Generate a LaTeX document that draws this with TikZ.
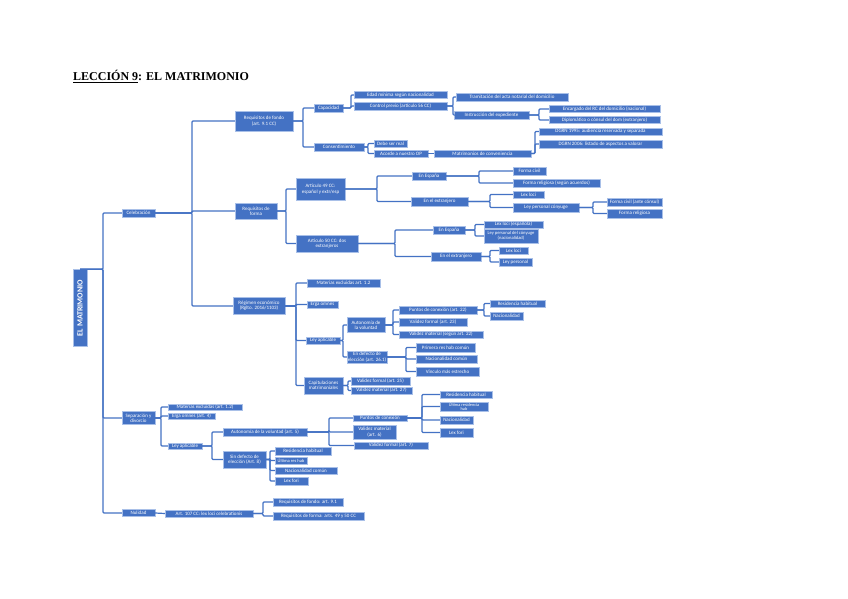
\documentclass[tikz,border=0pt]{standalone}
\usepackage{fontspec}
\setmainfont{Carlito}
\newfontfamily\titlefont{Liberation Serif}
\definecolor{boxblue}{HTML}{4472C4}
\definecolor{boxedge}{HTML}{A9C0E8}
\tikzset{
  box/.style={fill=boxblue, draw=boxedge, line width=0.4pt, text=white, inner sep=0pt, align=center,
    font=\fontsize{5}{5.4}\selectfont},
  conn/.style={draw=boxblue, line width=1.2pt, rounded corners=1pt},
}
\newcommand{\bx}[6]{\node[box, minimum width=#4, minimum height=#5] (#1) at (#2,#3) {#6};}
\newcommand{\brk}[3]{\coordinate (#1-b) at (#2,0);
  \foreach \kid in {#3}{\draw[conn] (#1.east) -- (#1.east -| #1-b) |- (\kid.west);}}
\begin{document}
\begin{tikzpicture}[x=1pt,y=-1pt]
\fill[white] (0,0) rectangle (848,599);
\useasboundingbox (0,0) rectangle (848,599);

\node[anchor=base west, inner sep=0pt, font=\titlefont\bfseries\fontsize{12}{14}\selectfont] (title) at (73,81) {\underline{LECCIÓN 9}: EL MATRIMONIO};

% root
\node[box, rotate=90, minimum width=77, minimum height=14, font=\bfseries\fontsize{8}{9}\selectfont] (root) at (80,308) {EL MATRIMONIO};

\bx{cel}{138.5}{213}{33}{8}{Celebración}
\bx{sep}{138.5}{418}{33}{13}{Separación y\\divorcio}
\bx{nul}{138.5}{513}{33}{7}{Nulidad}

\bx{rfondo}{264}{121}{58}{20}{Requisitos de fondo\\(art. 9.1 CC)}
\bx{rforma}{256}{211}{42}{16}{Requisitos de\\forma}
\bx{reg}{259}{306}{52}{17}{Régimen económico\\(Rglto. 2016/1103)}

\bx{cap}{328.5}{108}{29}{8}{Capacidad}
\bx{cons}{339}{147}{50}{8}{Consentimiento}
\bx{edad}{400.5}{95}{93}{7}{Edad mínima según nacionalidad}
\bx{ctrl}{400.5}{106}{93}{8}{Control previo (artículo 56 CC)}
\bx{tram}{512}{97}{112}{8}{Tramitación del acta notarial del domicilio}
\bx{instr}{491.5}{115}{75}{8}{Instrucción del expediente}
\bx{enc}{604.5}{109}{111}{7}{Encargado del RC del domicilio (nacional)}
\bx{dipl}{604.5}{120}{111}{7}{Diplomático o cónsul del dom (extranjero)}
\bx{debe}{390.5}{143.5}{33}{7}{Debe ser real}
\bx{acor}{401}{153.5}{54}{7}{Acorde a nuestro OP}
\bx{matr}{482.5}{153.5}{97}{7}{Matrimonios de conveniencia}
\bx{d95}{600.5}{131.5}{123}{7}{DGRN 1995: audiencia reservada y separada}
\bx{d06}{600.5}{144}{123}{8}{DGRN 2006: listado de aspectos a valorar}

\bx{a49}{320.5}{189}{49}{22}{Artículo 49 CC:\\español y extr/esp}
\bx{a50}{327}{243.5}{62}{17}{Artículo 50 CC: dos\\extranjeros}
\bx{esp49}{429}{176}{34}{8}{En España}
\bx{ext49}{439.5}{201.5}{57}{9}{En el extranjero}
\bx{fcivil}{529.5}{171}{33}{8}{Forma civil}
\bx{frel}{556.5}{183}{87}{8}{Forma religiosa (según acuerdos)}
\bx{llc49}{528.5}{194.5}{31}{7}{Lex loci}
\bx{lpc}{546}{207.5}{66}{9}{Ley personal cónyuge}
\bx{fcc}{634.5}{202}{55}{8}{Forma civil (ante cónsul)}
\bx{frr}{634.5}{213.5}{55}{9}{Forma religiosa}
\bx{esp50}{449}{230}{32}{8}{En España}
\bx{ext50}{456}{256.5}{50}{9}{En el extranjero}
\bx{llesp}{513.5}{224.5}{59}{7}{Lex loci (española)}
\node[box, minimum width=54, minimum height=14, font=\fontsize{4.6}{5.2}\selectfont] (lpcn) at (511,236) {Ley personal del cónyuge\\(nacionalidad)};
\bx{llc50}{513.5}{250.5}{29}{7}{Lex loci}
\bx{lp50}{515.5}{262}{33}{8}{Ley personal}

\bx{mexc}{343.5}{283}{73}{8}{Materias excluidas art. 1.2}
\bx{erga}{322.5}{304.5}{31}{7}{Erga omnes}
\bx{lapl}{323}{340.5}{34}{7}{Ley aplicable}
\bx{capit}{323.5}{385.5}{39}{17}{Capitulaciones\\matrimoniales}
\bx{auto}{366}{325}{38}{15}{Autonomía de\\la voluntad}
\bx{sdef}{367}{357}{40}{12}{En defecto de\\elección (art. 26.1)}
\bx{pcon}{438}{310}{78}{8}{Puntos de conexión (art. 22)}
\bx{vf23}{433}{322}{68}{8}{Validez formal (art. 23)}
\bx{vm22}{441}{334.5}{84}{7}{Validez material (según art. 22)}
\bx{rhab}{517.5}{303.5}{55}{7}{Residencia habitual}
\bx{nac}{506.5}{316}{33}{8}{Nacionalidad}
\bx{prh}{445.5}{347.5}{59}{9}{Primera res hab común}
\bx{ncom}{446.5}{359}{61}{8}{Nacionalidad común}
\bx{vme}{447.5}{371.5}{63}{9}{Vínculo más estrecho}
\bx{vf25}{380.5}{381}{59}{8}{Validez formal (art. 25)}
\bx{vm27}{381.5}{390.5}{61}{7}{Validez material (art. 27)}

\bx{sMat}{205}{407}{74}{6}{Materias excluidas (art. 1.2)}
\bx{sErga}{191.5}{416}{47}{6}{Erga omnes (art. 4)}
\bx{sLey}{185}{446}{34}{6}{Ley aplicable}
\bx{sAuto}{265}{432}{84}{8}{Autonomía de la voluntad (art. 5)}
\bx{sDef}{244.5}{459.5}{43}{17}{Sin defecto de\\elección (Art. 8)}
\bx{sPun}{380}{418}{54}{6}{Puntos de conexión}
\bx{sVm}{374.5}{432}{43}{14}{Validez material\\(art. 6)}
\bx{sVf}{391}{445.5}{74}{7}{Validez formal (art. 7)}
\bx{sRh1}{466}{394.5}{52}{7}{Residencia habitual}
\node[box, minimum width=48, minimum height=9, font=\fontsize{4.3}{4.3}\selectfont] (sUr1) at (464,406.5) {Última residencia\\hab};
\bx{sNac1}{456.5}{420}{33}{8}{Nacionalidad}
\bx{sLf1}{456.5}{432.5}{33}{9}{Lex fori}
\bx{sRh2}{303}{451}{56}{8}{Residencia habitual}
\node[box, minimum width=32, minimum height=7, font=\fontsize{4.5}{5}\selectfont] (sUr2) at (291,460.5) {Última res hab};
\bx{sNc2}{306}{470.5}{62}{7}{Nacionalidad común}
\bx{sLf2}{291.5}{481}{33}{8}{Lex fori}

\bx{a107}{209}{513.5}{88}{7}{Art. 107 CC: lex loci celebrationis}
\bx{nRf}{308}{502}{70}{8}{Requisitos de fondo: art. 9.1}
\bx{nRfo}{318.5}{516}{91}{8}{Requisitos de forma: arts. 49 y 50 CC}

% connectors
\brk{root}{103}{cel,sep,nul}
\brk{cel}{192}{rfondo,rforma,reg}
\brk{rfondo}{303}{cap,cons}
\brk{cap}{351}{edad,ctrl}
\brk{ctrl}{453}{tram,instr}
\brk{instr}{539}{enc,dipl}
\brk{cons}{368}{debe,acor}
\draw[conn] (acor.east) -- (matr.west);
\brk{matr}{535}{d95,d06}
\brk{rforma}{286}{a49,a50}
\brk{a49}{377}{esp49,ext49}
\brk{esp49}{479}{fcivil,frel}
\brk{ext49}{490}{llc49,lpc}
\brk{lpc}{593}{fcc,frr}
\brk{a50}{395}{esp50,ext50}
\brk{esp50}{475}{llesp,lpcn}
\brk{ext50}{490}{llc50,lp50}
\brk{reg}{296}{mexc,erga,lapl,capit}
\brk{lapl}{343}{auto,sdef}
\brk{auto}{393}{pcon,vf23,vm22}
\brk{pcon}{484}{rhab,nac}
\brk{sdef}{406}{prh,ncom,vme}
\brk{capit}{348}{vf25,vm27}
\brk{sep}{161}{sMat,sErga,sLey}
\brk{sLey}{212}{sAuto,sDef}
\brk{sAuto}{329}{sPun,sVm,sVf}
\brk{sPun}{422}{sRh1,sUr1,sNac1,sLf1}
\brk{sDef}{270}{sRh2,sUr2,sNc2,sLf2}
\draw[conn] (nul.east) -- (a107.west);
\brk{a107}{263}{nRf,nRfo}
\end{tikzpicture}
\end{document}
